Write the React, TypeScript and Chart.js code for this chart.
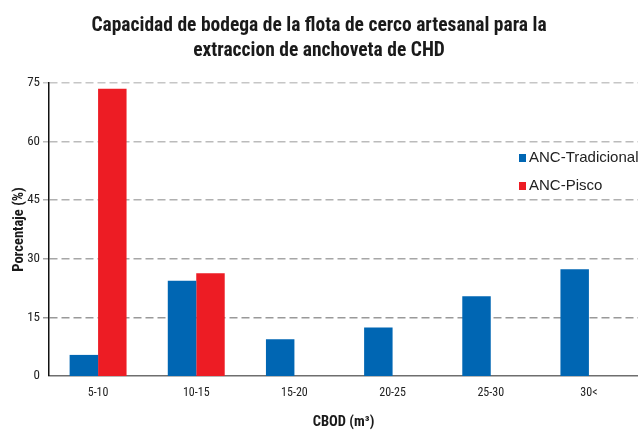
import React, { useEffect, useRef } from "react";
import { Chart, registerables } from "chart.js";

Chart.register(...registerables);

const categories = ["5-10", "10-15", "15-20", "20-25", "25-30", "30<"];
const tradicional = [5.4, 24.4, 9.4, 12.4, 20.4, 27.3];
const pisco: (number | null)[] = [73.5, 26.3, null, null, null, null];
const seriesNames = ["ANC-Tradicional", "ANC-Pisco"];
const yTicks = [0, 15, 30, 45, 60, 75];
const titleLines = [
  "Capacidad de bodega de la flota de cerco artesanal para la",
  "extraccion de anchoveta de CHD",
];

const COND = "'Roboto Condensed', 'Liberation Sans', Arial, sans-serif";
const REG = "'Liberation Sans', Arial, sans-serif";
const BLUE = "#0066b3";
const RED = "#ed1c24";

const legendPlugin = {
  id: "inAreaLegend",
  afterDraw(chart: any) {
    const ctx = chart.ctx;
    ctx.save();
    ctx.font = `15px ${REG}`;
    ctx.textBaseline = "middle";
    ctx.textAlign = "left";
    const x = 519;
    const ys = [158, 186];
    chart.data.datasets.forEach((ds: any, i: number) => {
      ctx.fillStyle = ds.backgroundColor;
      ctx.fillRect(x, ys[i] - 4, 7, 8);
      ctx.fillStyle = "#222";
      ctx.fillText(ds.label, x + 10, ys[i]);
    });
    ctx.restore();
  },
};

function gridColor(v: number) {
  const map: Record<number, string> = {
    15: "#999999",
    30: "#a6a6a6",
    45: "#b0b0b0",
    60: "#bbbbbb",
    75: "#c6c6c6",
  };
  return map[v] || "#aaaaaa";
}

export default function App() {
  const ref = useRef<HTMLCanvasElement>(null);
  useEffect(() => {
    document.body.style.margin = "0";
    const chart = new Chart(ref.current!, {
      type: "bar",
      data: {
        labels: categories,
        datasets: [
          { label: seriesNames[0], data: tradicional, backgroundColor: BLUE, borderWidth: 0 },
          { label: seriesNames[1], data: pisco, backgroundColor: RED, borderWidth: 0 },
        ],
      },
      plugins: [legendPlugin],
      options: {
        responsive: true,
        maintainAspectRatio: false,
        animation: false,
        layout: { padding: { left: 0, right: 0, top: 0, bottom: 0 } },
        datasets: { bar: { barPercentage: 1, categoryPercentage: 0.58 } },
        plugins: {
          legend: { display: false },
          tooltip: { enabled: false },
          title: {
            display: true,
            text: titleLines,
            color: "#1a1a1a",
            font: { family: COND, size: 19.5, weight: "bold", lineHeight: "25px" },
            padding: { top: 14, bottom: 19 },
          },
        },
        scales: {
          x: {
            afterFit: (s: any) => {
              s.height = 59;
            },
            grid: { display: false, drawTicks: false },
            border: { display: true, color: "#6e6e6e", width: 1.5 },
            ticks: { color: "#222", font: { family: COND, size: 12 }, padding: 10 },
            title: {
              display: true,
              text: "CBOD (m³)",
              color: "#1a1a1a",
              font: { family: COND, size: 14.5, weight: "bold", lineHeight: 1.2 },
              padding: { top: 0, bottom: 4 },
            },
          },
          y: {
            min: 0,
            max: 75,
            afterFit: (s: any) => {
              s.width = 49;
            },
            afterBuildTicks: (s: any) => {
              s.ticks = yTicks.map((v) => ({ value: v }));
            },
            grid: {
              color: (c: any) => gridColor(c.tick?.value),
              tickColor: (c: any) => gridColor(c.tick?.value),
              lineWidth: (c: any) => (c.tick?.value === 0 ? 0 : 1.5),
              tickBorderDash: [8, 4],
              drawTicks: true,
              tickLength: 6,
            },
            border: { display: true, color: "#111", width: 1.5, dash: [8, 4] },
            ticks: { color: "#222", font: { family: COND, size: 13 }, padding: 3 },
            title: {
              display: true,
              text: "Porcentaje (%)",
              color: "#1a1a1a",
              font: { family: COND, size: 14.5, weight: "bold", lineHeight: 1.2 },
              padding: { top: 11, bottom: 0 },
            },
          },
        },
      } as any,
    });
    return () => chart.destroy();
  }, []);
  return (
    <div style={{ width: 638, height: 435, position: "relative" }}>
      <canvas ref={ref} />
    </div>
  );
}
